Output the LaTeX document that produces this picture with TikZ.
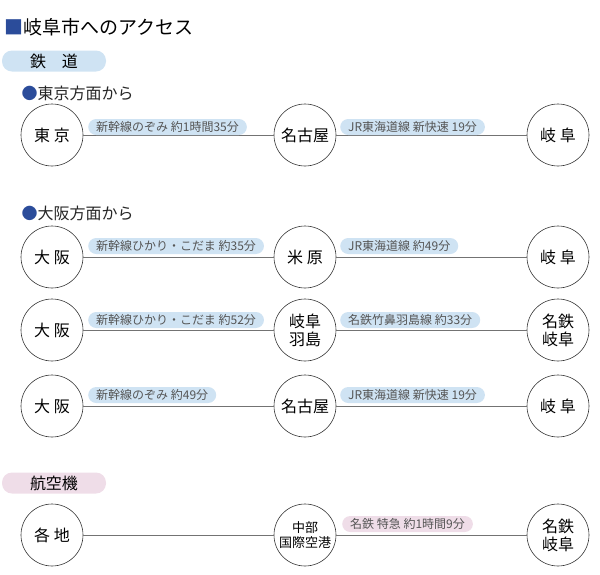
\documentclass[tikz,border=0pt]{standalone}
\usepackage{fontspec}
\setmainfont{Noto Sans CJK JP}
\definecolor{pblue}{HTML}{CFE3F3}
\definecolor{ppink}{HTML}{EFDDE8}
\definecolor{tblue}{HTML}{2B4C9A}
\definecolor{lgray}{HTML}{555555}
\tikzset{
 stn/.style={circle,draw=black!80,line width=0.6pt,fill=white,minimum size=62pt,inner sep=0pt,align=center,font=\fontsize{16}{18}\selectfont},
 lbl/.style={rounded corners=8pt,fill=#1,inner xsep=8pt,inner ysep=0pt,minimum height=16pt,anchor=west,text=lgray,font=\fontsize{12}{14}\selectfont},
 link/.style={draw=black!55,line width=0.8pt},
 hdr/.style={anchor=west,font=\fontsize{16}{18}\selectfont,text=black!85},
 sect/.style={rounded corners=10pt,fill=#1,minimum width=104pt,minimum height=21pt,inner sep=0pt,font=\fontsize{16}{18}\selectfont}
}
\begin{document}
\begin{tikzpicture}[x=1pt,y=-1pt]
\useasboundingbox (0,0) rectangle (600,574);
\node[anchor=west,font=\fontsize{19}{21}\selectfont] (title) at (1,27) {\textcolor{tblue}{■}岐阜市へのアクセス};
\node[sect=pblue] (rail) at (54,61) {鉄\hspace{1em}道};
\node[hdr] (h1) at (18,93) {\textcolor{tblue}{●}東京方面から};
\node[hdr] (h2) at (18,213) {\textcolor{tblue}{●}大阪方面から};
\node[sect=ppink] (air) at (54,483) {航空機};
% row 1
\node[stn] (a1) at (52,135) {東 京};
\node[stn] (b1) at (305,135) {名古屋};
\node[stn] (c1) at (558,135) {岐 阜};
% row 2
\node[stn] (a2) at (52,257) {大 阪};
\node[stn] (b2) at (305,257) {米 原};
\node[stn] (c2) at (558,257) {岐 阜};
% row 3
\node[stn] (a3) at (52,330) {大 阪};
\node[stn] (b3) at (305,330) {岐阜\\羽島};
\node[stn] (c3) at (558,330) {名鉄\\岐阜};
% row 4
\node[stn] (a4) at (52,406) {大 阪};
\node[stn] (b4) at (305,406) {名古屋};
\node[stn] (c4) at (558,406) {岐 阜};
% row 5
\node[stn] (a5) at (52,535) {各 地};
\node[stn,font=\fontsize{13}{15}\selectfont] (b5) at (305,535) {中部\\国際空港};
\node[stn] (c5) at (558,535) {名鉄\\岐阜};
\foreach \r in {1,...,5}{
 \draw[link] (a\r) -- (b\r);
 \draw[link] (b\r) -- (c\r);
}
\node[lbl=pblue] (l1a) at (88,127) {新幹線のぞみ 約1時間35分};
\node[lbl=pblue] (l1b) at (340,127) {JR東海道線 新快速 19分};
\node[lbl=pblue] (l2a) at (88,246) {新幹線ひかり・こだま 約35分};
\node[lbl=pblue] (l2b) at (340,246) {JR東海道線 約49分};
\node[lbl=pblue] (l3a) at (88,320) {新幹線ひかり・こだま 約52分};
\node[lbl=pblue] (l3b) at (340,320) {名鉄竹鼻羽島線 約33分};
\node[lbl=pblue] (l4a) at (88,395) {新幹線のぞみ 約49分};
\node[lbl=pblue] (l4b) at (340,395) {JR東海道線 新快速 19分};
\node[lbl=ppink] (l5b) at (342,524) {名鉄 特急 約1時間9分};
\end{tikzpicture}
\end{document}
